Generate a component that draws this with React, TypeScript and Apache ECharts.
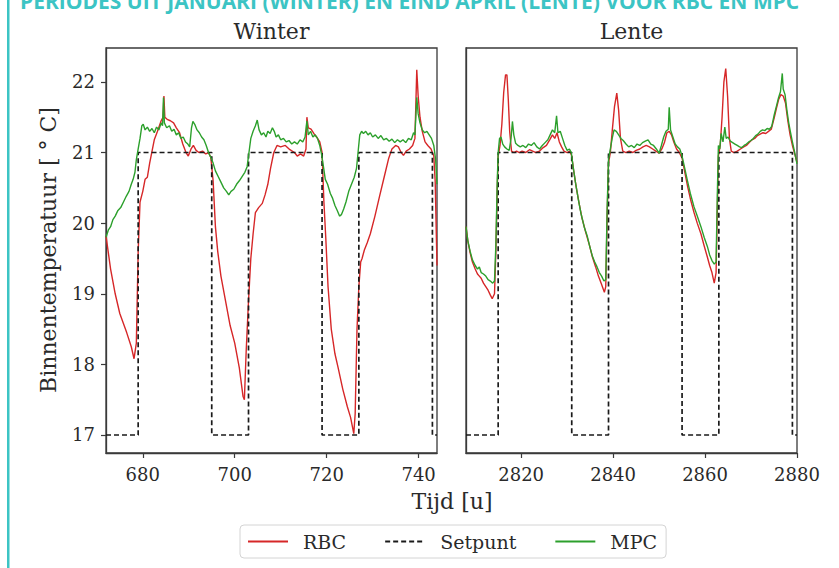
import React, { useEffect, useRef } from "react";
import * as echarts from "echarts";

const winterTicks = [680, 700, 720, 740];
const lenteTicks = [2820, 2840, 2860, 2880];
const yTicks = [17, 18, 19, 20, 21, 22];

const winterSetpoint = [[672,17],[679,17],[679,21],[695,21],[695,17],[703,17],[703,21],[719,21],[719,17],[727,17],[727,21],[743,21],[743,17],[744,17]];
const lenteSetpoint = [[2808,17],[2815,17],[2815,21],[2831,21],[2831,17],[2839,17],[2839,21],[2855,21],[2855,17],[2863,17],[2863,21],[2879,21],[2879,17],[2880,17]];

const winterRbc = [[672,19.82],[673,19.35],[674,19.0],[675,18.72],[676.5,18.45],[677.5,18.25],[678.1,18.08],[678.6,18.3],[679.0,19.6],[679.4,20.3],[680.0,20.45],[680.5,20.62],[681,20.65],[681.5,20.85],[682.5,21.18],[683.2,21.3],[684,21.45],[684.4,21.5],[684.6,21.8],[684.8,21.5],[685.3,21.47],[686,21.45],[686.7,21.42],[687.3,21.35],[688,21.28],[688.7,21.12],[689.4,21.0],[689.9,20.95],[690.5,21.05],[691,21.1],[691.6,21.03],[692.2,21.0],[693,21.02],[693.7,20.98],[694.3,21.0],[694.8,20.93],[695.3,20.6],[695.8,19.95],[696.3,19.6],[697,19.25],[698,18.9],[699,18.55],[700,18.3],[701,17.95],[701.8,17.55],[702.1,17.5],[702.5,18.2],[703,18.9],[703.5,19.5],[704,19.85],[704.5,20.15],[705.2,20.22],[706,20.28],[706.6,20.4],[707.2,20.55],[707.8,20.78],[708.5,21.0],[709.2,21.1],[710,21.08],[711,21.1],[712,21.04],[713,21.0],[713.6,20.95],[714.3,20.98],[715,20.95],[715.5,21.05],[715.7,21.5],[716,21.35],[716.6,21.33],[717.2,21.27],[717.8,21.22],[718.5,21.15],[719.0,21.0],[719.4,20.3],[719.8,19.8],[720.3,19.1],[721,18.5],[721.8,18.15],[722.5,17.95],[723.5,17.65],[724.5,17.4],[725.2,17.25],[725.9,17.02],[726.2,17.3],[726.6,18.5],[727,19.1],[727.4,19.45],[727.7,19.5],[728.2,19.62],[728.8,19.72],[729.5,19.85],[730.5,20.1],[731.5,20.38],[732.5,20.65],[733.5,20.92],[734.2,21.05],[735,21.1],[735.6,21.08],[736.2,21.0],[736.7,20.96],[737.3,21.02],[738,21.05],[738.7,21.1],[739.2,21.2],[739.6,22.17],[739.9,21.8],[740.3,21.5],[740.8,21.3],[741.4,21.15],[742,21.1],[742.7,21.05],[743.3,20.95],[743.6,20.6],[744,19.4]];

const winterMpc = [[672,19.8],[672.5,19.9],[673,19.95],[673.5,20.05],[674,20.1],[674.6,20.18],[675.2,20.22],[675.8,20.3],[676.4,20.38],[677,20.45],[677.5,20.55],[677.9,20.62],[678.3,20.72],[678.6,20.9],[679,21.05],[679.4,21.2],[679.8,21.38],[680.1,21.4],[680.5,21.32],[681,21.36],[681.5,21.3],[682,21.34],[682.5,21.28],[683,21.36],[683.5,21.32],[684,21.42],[684.3,21.38],[684.5,21.78],[684.7,21.42],[685.2,21.35],[685.8,21.38],[686.3,21.3],[686.8,21.33],[687.3,21.25],[687.8,21.28],[688.3,21.2],[688.8,21.22],[689.3,21.15],[689.8,21.12],[690.2,21.08],[690.6,21.35],[690.9,21.44],[691.3,21.4],[691.8,21.32],[692.3,21.28],[692.8,21.22],[693.3,21.18],[693.8,21.1],[694.3,21.0],[694.8,20.93],[695.3,20.85],[695.8,20.74],[696.4,20.66],[697,20.58],[697.6,20.5],[698.2,20.45],[698.7,20.4],[699.2,20.45],[699.8,20.48],[700.4,20.55],[701,20.6],[701.6,20.66],[702.2,20.72],[702.7,20.8],[703.1,21.0],[703.5,21.2],[704,21.3],[704.5,21.38],[704.9,21.46],[705.3,21.32],[705.8,21.25],[706.3,21.28],[706.8,21.22],[707.2,21.3],[707.7,21.27],[708.2,21.35],[708.6,21.3],[709,21.22],[709.5,21.25],[710,21.18],[710.6,21.2],[711.2,21.15],[711.8,21.17],[712.4,21.12],[713,21.15],[713.6,21.12],[714.2,21.18],[714.8,21.15],[715.3,21.22],[715.7,21.45],[716,21.25],[716.5,21.3],[717,21.22],[717.5,21.25],[718,21.2],[718.5,21.1],[718.9,20.97],[719.3,20.8],[719.7,20.62],[720.2,20.55],[720.8,20.42],[721.3,20.35],[721.8,20.25],[722.3,20.18],[722.8,20.1],[723.2,20.12],[723.7,20.2],[724.2,20.3],[724.8,20.45],[725.4,20.55],[726,20.65],[726.5,20.78],[726.9,21.05],[727.2,21.25],[727.6,21.3],[728,21.27],[728.5,21.3],[729,21.25],[729.5,21.28],[730,21.22],[730.6,21.25],[731.2,21.2],[731.8,21.24],[732.4,21.18],[733,21.2],[733.6,21.16],[734.2,21.19],[734.8,21.14],[735.4,21.18],[736,21.15],[736.6,21.18],[737.2,21.14],[737.8,21.2],[738.4,21.18],[738.9,21.28],[739.2,21.25],[739.6,21.78],[739.9,21.55],[740.3,21.42],[740.8,21.32],[741.3,21.28],[741.8,21.3],[742.3,21.25],[742.8,21.2],[743.3,21.1],[743.7,20.9],[744,20.55]];

const lenteRbc = [[2808,19.95],[2808.4,19.75],[2808.9,19.58],[2809.4,19.45],[2810,19.35],[2810.5,19.28],[2810.9,19.25],[2811.3,19.22],[2811.8,19.15],[2812.3,19.1],[2812.8,19.05],[2813.3,18.98],[2813.7,18.93],[2814.2,19.0],[2814.5,19.6],[2814.8,20.5],[2815,20.95],[2815.4,21.1],[2815.8,21.4],[2816.2,21.85],[2816.6,22.1],[2816.9,22.1],[2817.2,21.75],[2817.5,21.3],[2817.9,21.02],[2818.4,21.0],[2819,21.02],[2819.6,21.0],[2820.2,21.02],[2821,21.0],[2821.8,21.04],[2822.5,21.02],[2823.2,21.0],[2824,21.02],[2824.8,21.07],[2825.5,21.1],[2826.2,21.18],[2826.8,21.25],[2827.3,21.2],[2827.8,21.28],[2828.3,21.15],[2828.8,21.08],[2829.3,21.02],[2830,21.0],[2830.6,21.02],[2831,20.95],[2831.4,20.75],[2832,20.5],[2832.6,20.28],[2833.2,20.08],[2834,19.88],[2834.8,19.7],[2835.5,19.52],[2836.2,19.38],[2836.8,19.25],[2837.4,19.15],[2838.1,19.02],[2838.4,19.1],[2838.7,20.1],[2839,20.85],[2839.4,21.0],[2839.8,21.3],[2840.3,21.65],[2840.8,21.84],[2841.2,21.6],[2841.6,21.2],[2842.1,21.02],[2842.8,21.0],[2843.5,21.02],[2844.3,21.0],[2845,21.03],[2845.8,21.05],[2846.5,21.08],[2847.2,21.1],[2847.9,21.08],[2848.6,21.05],[2849.3,21.02],[2850,20.99],[2850.6,21.05],[2851.2,21.15],[2851.7,21.28],[2852.2,21.3],[2852.7,21.25],[2853.2,21.15],[2853.8,21.05],[2854.4,21.0],[2855,20.92],[2855.6,20.72],[2856.2,20.52],[2856.9,20.32],[2857.6,20.15],[2858.3,20.0],[2859.1,19.85],[2859.8,19.68],[2860.5,19.52],[2861,19.4],[2861.5,19.3],[2862,19.15],[2862.4,19.3],[2862.7,20.3],[2862.9,20.95],[2863.3,21.1],[2863.7,21.5],[2864.1,22.0],[2864.5,22.19],[2864.9,21.8],[2865.3,21.2],[2865.7,21.02],[2866.3,21.0],[2867,21.02],[2867.7,21.05],[2868.4,21.08],[2869,21.1],[2869.6,21.14],[2870.2,21.18],[2870.8,21.2],[2871.4,21.24],[2872,21.26],[2872.6,21.28],[2873.2,21.27],[2873.8,21.3],[2874.4,21.33],[2875,21.48],[2875.5,21.62],[2876,21.75],[2876.5,21.82],[2877,21.8],[2877.5,21.7],[2878,21.45],[2878.5,21.25],[2879,21.1],[2879.5,20.98],[2880,20.86]];

const lenteMpc = [[2808,19.95],[2808.4,19.75],[2808.9,19.6],[2809.4,19.48],[2810,19.4],[2810.5,19.35],[2810.9,19.38],[2811.3,19.3],[2811.8,19.28],[2812.3,19.25],[2812.8,19.2],[2813.3,19.18],[2813.8,19.15],[2814.2,19.18],[2814.5,19.7],[2814.8,20.6],[2815,21.0],[2815.3,21.2],[2815.6,21.22],[2816,21.12],[2816.4,21.08],[2816.9,21.05],[2817.4,21.03],[2817.8,21.2],[2818.1,21.44],[2818.4,21.25],[2818.8,21.13],[2819.3,21.1],[2819.8,21.08],[2820.4,21.1],[2821,21.07],[2821.6,21.12],[2822.2,21.1],[2822.8,21.14],[2823.4,21.08],[2824,21.05],[2824.6,21.1],[2825.2,21.14],[2825.8,21.18],[2826.3,21.25],[2826.8,21.32],[2827.3,21.28],[2827.7,21.52],[2828,21.28],[2828.5,21.3],[2829,21.2],[2829.5,21.1],[2830,21.03],[2830.5,21.05],[2830.9,21.0],[2831.3,20.8],[2831.8,20.58],[2832.4,20.35],[2833,20.14],[2833.7,19.95],[2834.4,19.81],[2835,19.65],[2835.5,19.53],[2836,19.45],[2836.5,19.38],[2837,19.3],[2837.5,19.25],[2838,19.18],[2838.4,19.2],[2838.7,20.2],[2839,20.9],[2839.4,21.05],[2839.8,21.2],[2840.2,21.32],[2840.7,21.3],[2841.2,21.25],[2841.7,21.2],[2842.2,21.17],[2842.8,21.12],[2843.4,21.08],[2844,21.1],[2844.6,21.07],[2845.2,21.12],[2845.8,21.1],[2846.4,21.14],[2847,21.16],[2847.6,21.18],[2848.2,21.12],[2848.8,21.1],[2849.4,21.05],[2850,20.99],[2850.5,21.1],[2851,21.22],[2851.5,21.3],[2852,21.33],[2852.2,21.64],[2852.5,21.32],[2853,21.22],[2853.5,21.12],[2854,21.08],[2854.5,21.05],[2855,20.95],[2855.5,20.8],[2856.1,20.62],[2856.8,20.42],[2857.6,20.23],[2858.3,20.1],[2859.1,19.95],[2859.8,19.8],[2860.5,19.67],[2861,19.55],[2861.5,19.47],[2862,19.42],[2862.4,19.45],[2862.7,20.5],[2862.9,21.1],[2863.2,21.05],[2863.5,21.27],[2863.9,21.15],[2864.3,21.36],[2864.6,21.2],[2865,21.22],[2865.5,21.16],[2866,21.14],[2866.5,21.12],[2867,21.1],[2867.5,21.08],[2868,21.07],[2868.5,21.1],[2869,21.12],[2869.5,21.15],[2870,21.17],[2870.5,21.2],[2871,21.24],[2871.5,21.26],[2872,21.3],[2872.5,21.32],[2873,21.31],[2873.5,21.34],[2874,21.33],[2874.5,21.37],[2875,21.52],[2875.5,21.65],[2876,21.78],[2876.4,21.86],[2876.8,22.12],[2877,21.9],[2877.4,21.82],[2877.8,21.6],[2878.2,21.42],[2878.6,21.28],[2879,21.15],[2879.5,21.0],[2880,20.84]];

const RED = "#d62728";
const GREEN = "#2ca02c";
const SERIF = "DejaVu Serif";
const TXT = "#2a2a2a";
const AX = "#3a3a3a";

export default function App() {
  const ref = useRef<HTMLDivElement>(null);
  useEffect(() => {
    if (!ref.current) return;
    const chart = echarts.init(ref.current, null, { renderer: "svg" });
    const xAxisBase = (min: number, max: number, ticks: number[], gi: number) => ({
      type: "value", gridIndex: gi, min, max,
      splitLine: { show: false },
      axisLine: { show: true, lineStyle: { color: AX, width: 1.3 } },
      axisTick: { show: true, length: 5, customValues: ticks, lineStyle: { color: AX, width: 1.2 } },
      axisLabel: { customValues: ticks, margin: 12, color: TXT, fontFamily: SERIF, fontSize: 18, formatter: (v: number) => String(v) },
    });
    const line = (name: string, data: number[][], color: string, gi: number, dashed = false, z = 2) => ({
      name, type: "line", xAxisIndex: gi, yAxisIndex: gi, data, showSymbol: false, symbol: "none",
      clip: true, z,
      lineStyle: { color, width: dashed ? 1.7 : 1.4, type: dashed ? [5, 3] : "solid" },
      itemStyle: { color },
    });
    chart.setOption({
      animation: false,
      grid: [
        { left: 106, top: 48, width: 331, height: 405, show: true, borderColor: AX, borderWidth: 1.3 },
        { left: 466, top: 48, width: 331, height: 405, show: true, borderColor: AX, borderWidth: 1.3 },
      ],
      xAxis: [xAxisBase(672, 744, winterTicks, 0), xAxisBase(2808, 2880, lenteTicks, 1)],
      yAxis: [
        {
          type: "value", gridIndex: 0, min: 16.745, max: 22.48,
          splitLine: { show: false },
          axisLine: { show: true, lineStyle: { color: AX, width: 1.3 } },
          axisTick: { show: true, length: 5, customValues: yTicks, lineStyle: { color: AX, width: 1.2 } },
          axisLabel: { customValues: yTicks, margin: 11, color: TXT, fontFamily: SERIF, fontSize: 18 },
        },
        {
          type: "value", gridIndex: 1, min: 16.745, max: 22.48,
          splitLine: { show: false },
          axisLine: { show: true, lineStyle: { color: AX, width: 1.3 } },
          axisTick: { show: false },
          axisLabel: { show: false },
        },
      ],
      legend: {
        data: ["RBC", "Setpunt", "MPC"],
        left: 240, top: 525,
        orient: "horizontal",
        itemWidth: 40, itemHeight: 14, itemGap: 38,
        padding: [6, 9, 6, 7],
        itemStyle: { opacity: 0 },
        borderColor: "#d4d4d4", borderWidth: 1, borderRadius: 4,
        textStyle: { fontFamily: SERIF, fontSize: 19, color: TXT, padding: [0, 0, 0, 10], lineHeight: 21 },
      },
      series: [
        line("RBC", winterRbc, RED, 0, false, 2),
        line("Setpunt", winterSetpoint, "#1a1a1a", 0, true, 3),
        line("MPC", winterMpc, GREEN, 0, false, 4),
        line("RBC", lenteRbc, RED, 1, false, 2),
        line("Setpunt", lenteSetpoint, "#1a1a1a", 1, true, 3),
        line("MPC", lenteMpc, GREEN, 1, false, 4),
      ],
      graphic: [
        { type: "rect", shape: { x: 7, y: 0, width: 2.5, height: 568 }, style: { fill: "#3cc4c4" } },
        {
          type: "text", x: 20, y: 1,
          style: {
            text: "PERIODES UIT JANUARI (WINTER) EN EIND APRIL (LENTE) VOOR RBC EN MPC",
            fill: "#3cc4c4", font: "bold 21px 'Open Sans'", textVerticalAlign: "middle", textAlign: "left",
          },
        },
        { type: "text", x: 271.5, y: 31, style: { text: "Winter", fill: TXT, font: `22px '${SERIF}'`, textAlign: "center", textVerticalAlign: "middle" } },
        { type: "text", x: 631.5, y: 31, style: { text: "Lente", fill: TXT, font: `22px '${SERIF}'`, textAlign: "center", textVerticalAlign: "middle" } },
        { type: "text", x: 452, y: 501, style: { text: "Tijd [u]", fill: TXT, font: `22px '${SERIF}'`, textAlign: "center", textVerticalAlign: "middle" } },
        { type: "text", x: 48, y: 250, rotation: Math.PI / 2, style: { text: "Binnentemperatuur [ ° C]", fill: TXT, font: `22px '${SERIF}'`, textAlign: "center", textVerticalAlign: "middle" } },
      ],
    });
    return () => chart.dispose();
  }, []);
  return <div ref={ref} style={{ position: "fixed", left: 0, top: 0, width: 839, height: 568, background: "#fff" }} />;
}
